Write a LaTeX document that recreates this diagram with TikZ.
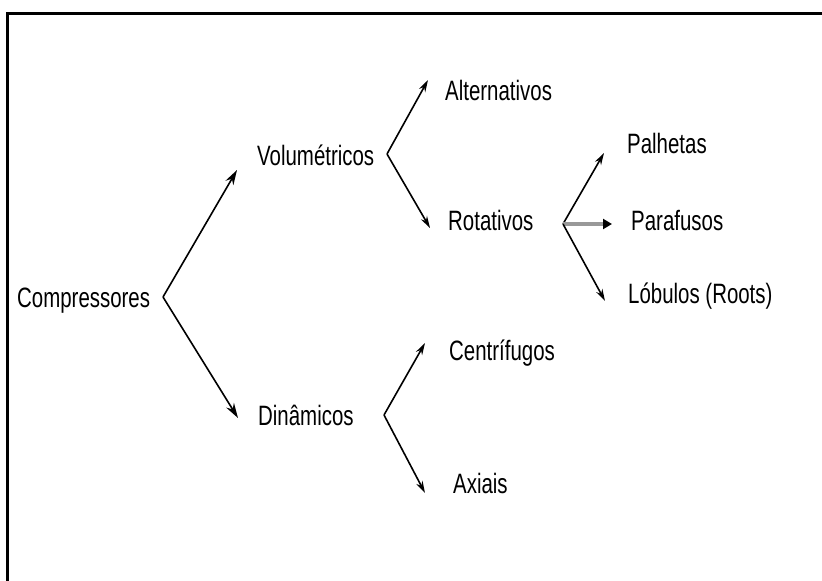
\documentclass[tikz,border=0pt]{standalone}
\usepackage{fontspec}
\setmainfont[FakeStretch=0.73]{Liberation Sans}
\usetikzlibrary{arrows.meta, positioning}
\tikzset{
  lbl/.style={anchor=base west, inner sep=0pt, font=\fontsize{28}{30}\selectfont},
  arr/.style={-{Stealth[length=12pt,width=7pt]}, line width=1.6pt},
  bigarr/.style={arr, -{Stealth[length=15pt,width=9pt]}},
  grayarr/.style={-{Triangle[length=9pt,width=10pt,color=black]}, line width=4pt, draw=black!40}
}
\begin{document}
\begin{tikzpicture}[x=1pt,y=-1pt]
	\useasboundingbox (0,0) rectangle (822,581);
	\draw[line width=3pt] (7.5,581) -- (7.5,13.5) -- (822,13.5);
	% level one
	\node[lbl] (comp) at (17,307) {Compressores};
	\node[lbl] (vol) at (257,165) {Volumétricos};
	\node[lbl] (din) at (258,425) {Dinâmicos};
	% level two
	\node[lbl] (alt) at (445,100) {Alternativos};
	\node[lbl] (rot) at (448,230) {Rotativos};
	\node[lbl] (cen) at (449,360) {Centrífugos};
	\node[lbl] (axi) at (453,493) {Axiais};
	% level three
	\node[lbl] (pal) at (627,153) {Palhetas};
	\node[lbl] (par) at (631,230) {Parafusos};
	\node[lbl] (lob) at (628,303) {Lóbulos (Roots)};
	% forks and tips
	\coordinate (fkComp) at (163,297);
	\coordinate (fkVol) at (387,154);
	\coordinate (fkDin) at (384,415);
	\coordinate (fkRot) at (563,224);
	\coordinate (tVol) at (237,170);
	\coordinate (tDin) at (238,418);
	\coordinate (tAlt) at (428,80);
	\coordinate (tRot) at (430,228);
	\coordinate (tCen) at (425,343);
	\coordinate (tAxi) at (425,493);
	\coordinate (tPal) at (604,153);
	\coordinate (tPar) at (612,224);
	\coordinate (tLob) at (605,301);
	\draw[bigarr] (fkComp) -- (tVol);
	\draw[bigarr] (fkComp) -- (tDin);
	\draw[arr] (fkVol) -- (tAlt);
	\draw[arr] (fkVol) -- (tRot);
	\draw[arr] (fkDin) -- (tCen);
	\draw[arr] (fkDin) -- (tAxi);
	\draw[arr] (fkRot) -- (tPal);
	\draw[grayarr] (fkRot) -- (tPar);
	\draw[arr] (fkRot) -- (tLob);
\end{tikzpicture}
\end{document}
